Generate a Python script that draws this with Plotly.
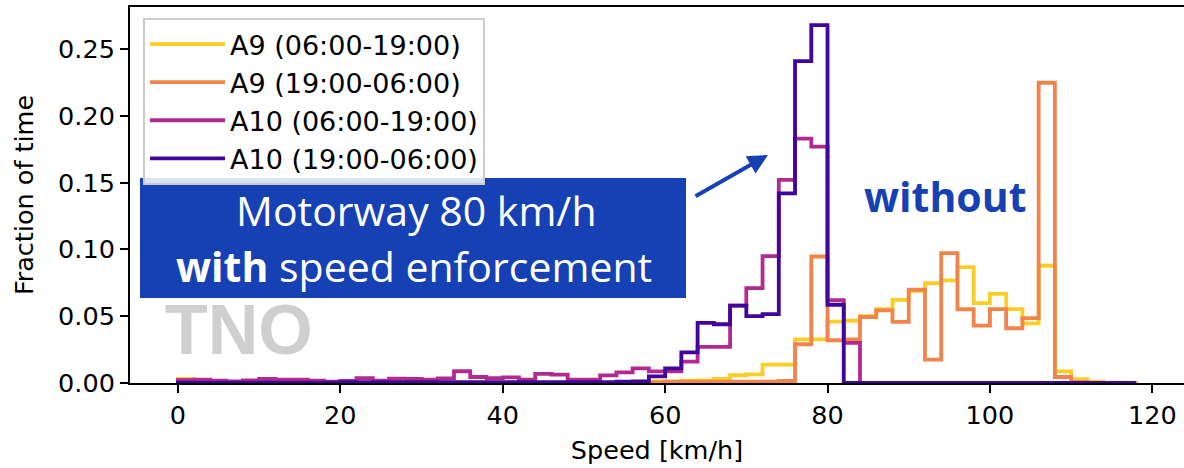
import plotly.graph_objects as go

# ---------------- data ----------------
bin_left = list(range(0, 118, 2))          # left edges of 2 km/h bins, 0..116
bin_end = 118

labels = ["A9 (06:00-19:00)", "A9 (19:00-06:00)", "A10 (06:00-19:00)", "A10 (19:00-06:00)"]
colors = ["#fcce25", "#f2844b", "#b12a90", "#41049d"]

a9_day = [0.0030, 0, 0, 0, 0, 0, 0, 0, 0, 0,
          0, 0, 0, 0, 0, 0, 0, 0, 0, 0,
          0, 0, 0, 0, 0, 0, 0, 0.0008, 0.0010, 0.0012,
          0.0010, 0.0017, 0.0020, 0.0030, 0.0058, 0.0065, 0.0137, 0.0137, 0.0327, 0.0327,
          0.0460, 0.0466, 0.0500, 0.0553, 0.0623, 0.0690, 0.0748, 0.0768, 0.0868, 0.0598,
          0.0668, 0.0553, 0.0447, 0.0878, 0.0087, 0.0028, 0.0010, 0.0003, 0.0001]

a9_night = [0.0020, 0, 0, 0, 0, 0, 0, 0, 0, 0,
            0, 0, 0, 0, 0, 0, 0, 0, 0, 0,
            0, 0, 0, 0, 0, 0, 0, 0, 0, 0.0005,
            0.0010, 0.0010, 0.0010, 0.0010, 0.0010, 0.0010, 0.0010, 0.0015, 0.0290, 0.0947,
            0.0320, 0.0327, 0.0494, 0.0544, 0.0457, 0.0698, 0.0175, 0.0972, 0.0552, 0.0429,
            0.0553, 0.0410, 0.0486, 0.2248, 0.0045, 0.0008, 0, 0, 0]

a10_day = [0.0022, 0.0025, 0.0017, 0.0012, 0.0020, 0.0030, 0.0025, 0.0025, 0.0017, 0.0010,
           0.0015, 0.0037, 0.0017, 0.0032, 0.0030, 0.0025, 0.0035, 0.0088, 0.0045, 0.0037,
           0.0042, 0.0025, 0.0068, 0.0062, 0.0025, 0.0025, 0.0057, 0.0080, 0.0110, 0.0087,
           0.0087, 0.0160, 0.0270, 0.0270, 0.0580, 0.0710, 0.0950, 0.1520, 0.1830, 0.1770,
           0.0620, 0.0300, 0, 0, 0, 0, 0, 0, 0, 0,
           0, 0, 0, 0, 0, 0, 0, 0, 0]

a10_night = [0.0002, 0.0002, 0.0002, 0.0002, 0.0002, 0.0002, 0.0002, 0.0002, 0.0002, 0.0002,
             0.0006, 0.0006, 0.0006, 0.0006, 0.0006, 0.0006, 0.0006, 0.0006, 0.0006, 0.0006,
             0.0006, 0.0006, 0.0006, 0.0006, 0.0006, 0.0006, 0.0006, 0.0010, 0.0012, 0.0050,
             0.0110, 0.0230, 0.0450, 0.0440, 0.0580, 0.0500, 0.0515, 0.1420, 0.2410, 0.2680,
             0.0586, 0, 0, 0, 0, 0, 0, 0, 0, 0,
             0, 0, 0, 0, 0, 0, 0, 0, 0]

x_ticks = [0, 20, 40, 60, 80, 100, 120]
y_ticks = [0.00, 0.05, 0.10, 0.15, 0.20, 0.25]

series = [a9_day, a9_night, a10_day, a10_night]

# ---------------- layout geometry ----------------
W, H = 1184, 468
ML, MR, MT, MB = 130, 0, 7, 85
PW, PH = W - ML - MR, H - MT - MB
BLUE = "#1641b4"
TICKFONT = dict(family="DejaVu Sans", size=25.5, color="black")


def px_x(px):
    return (px - ML) / PW


def px_y(py):
    return (H - MB - py) / PH


fig = go.Figure()
for vals, name, col in zip(series, labels, colors):
    xs = [bin_left[0]] + bin_left + [bin_end, bin_end]
    ys = [0] + vals + [vals[-1], 0]
    fig.add_trace(go.Scatter(x=xs, y=ys, mode="lines", name=name,
                             line=dict(color=col, width=3.8, shape="hv")))

fig.update_layout(
    width=W, height=H,
    margin=dict(l=ML, r=MR, t=MT, b=MB, pad=0),
    paper_bgcolor="white", plot_bgcolor="white",
    showlegend=True,
    legend=dict(x=px_x(143), y=px_y(18), xanchor="left", yanchor="top",
                bgcolor="rgba(255,255,255,0.85)", bordercolor="#cccccc", borderwidth=2,
                font=dict(family="DejaVu Sans", size=27, color="black"),
                itemwidth=75, tracegroupgap=0),
    xaxis=dict(range=[-5.9, 123.9], tickvals=x_ticks, showgrid=False, zeroline=False,
               showline=True, mirror=True, linecolor="black", linewidth=2,
               ticks="outside", ticklen=8, tickwidth=2, tickcolor="black",
               tickfont=TICKFONT,
               title=dict(text="Speed [km/h]", font=TICKFONT, standoff=13)),
    yaxis=dict(range=[0, 0.2815], tickvals=y_ticks, tickformat=".2f", showgrid=False,
               zeroline=False, showline=True, mirror=False, linecolor="black", linewidth=2,
               ticks="outside", ticklen=8, tickwidth=2, tickcolor="black",
               tickfont=TICKFONT,
               title=dict(text="Fraction of time", font=TICKFONT, standoff=17)),
)

# blue text box
fig.add_shape(type="rect", xref="paper", yref="paper",
              x0=px_x(140), x1=px_x(686), y0=px_y(298), y1=px_y(178),
              fillcolor=BLUE, line=dict(width=0), layer="above")

annos = [
    dict(text="Motorway 80 km/h", x=px_x(416), y=px_y(210),
         font=dict(family="Open Sans", size=41, color="white")),
    dict(text="<b>with</b> speed enforcement", x=px_x(414), y=px_y(266),
         font=dict(family="Open Sans", size=41, color="white")),
    dict(text="<b>without</b>", x=px_x(945), y=px_y(196),
         font=dict(family="Open Sans", size=41, color=BLUE)),
    dict(text="<b>TNO</b>", x=px_x(239), y=px_y(330),
         font=dict(family="Liberation Sans", size=70, color="#cfcfcf")),
]
for a in annos:
    fig.add_annotation(xref="paper", yref="paper", xanchor="center", yanchor="middle",
                       showarrow=False, **a)

# arrow
fig.add_annotation(xref="paper", yref="paper", x=px_x(768), y=px_y(155),
                   ax=694 - 768, ay=197 - 155, axref="pixel", ayref="pixel",
                   text="", showarrow=True, arrowhead=2, arrowsize=1,
                   arrowwidth=4, arrowcolor=BLUE)

fig.write_html("out.html")
